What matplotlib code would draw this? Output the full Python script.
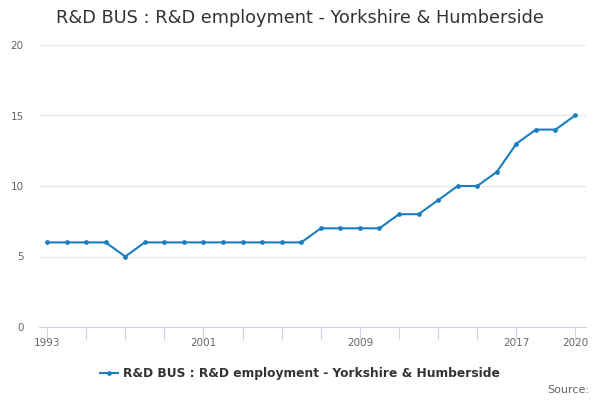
import matplotlib
matplotlib.use("Agg")
import matplotlib.pyplot as plt

# Data
years = list(range(1993, 2021))
values = [6, 6, 6, 6, 5, 6, 6, 6, 6, 6, 6, 6, 6, 6,
          7, 7, 7, 7, 8, 8, 9, 10, 10, 11, 13, 14, 14, 15]
tick_years = list(range(1993, 2018, 2)) + [2020]
label_years = [1993, 2001, 2009, 2017, 2020]
yticks = [0, 5, 10, 15, 20]
series_name = "R&D BUS : R&D employment - Yorkshire & Humberside"
title = "R&D BUS : R&D employment - Yorkshire & Humberside"

plt.rcParams['font.family'] = ['DejaVu Sans']

fig = plt.figure(figsize=(6, 4), dpi=100)
ax = fig.add_axes([39 / 600, 73 / 400, 547 / 600, 282 / 400])

line_color = '#1a7dc0'
ax.plot(years, values, color=line_color, lw=1.5, marker='o', ms=2.4,
        label=series_name, zorder=3, clip_on=False)

ax.set_xlim(1992.59, 2020.56)
ax.set_ylim(0, 20)

# y axis / grid
ax.set_yticks(yticks)
ax.yaxis.grid(True, color='#e6e6e6', lw=0.8)
ax.tick_params(axis='y', length=0, labelsize=7.5, labelcolor='#666666', pad=11)

# x axis ticks
ax.set_xticks(tick_years)
ax.set_xticklabels([str(y) if y in label_years else '' for y in tick_years])
ax.tick_params(axis='x', length=9, width=0.8, color='#ccd6eb', labelsize=7.5,
               labelcolor='#666666', pad=-1)

for side in ['top', 'right', 'left']:
    ax.spines[side].set_visible(False)
ax.spines['bottom'].set_color('#ccd6eb')
ax.set_axisbelow(True)

fig.text(0.5, 0.955, title, ha='center', va='center', fontsize=12.8, color='#333333')

leg = fig.legend(loc='center', bbox_to_anchor=(0.5, 0.065), frameon=False,
                 fontsize=8.8, handlelength=1.5, handletextpad=0.4)
for t in leg.get_texts():
    t.set_color('#333333')
    t.set_fontweight('bold')

fig.text(0.982, 0.025, "Source:", ha='right', va='center', fontsize=8, color='#666666')

fig.savefig("out.png", dpi=100)
